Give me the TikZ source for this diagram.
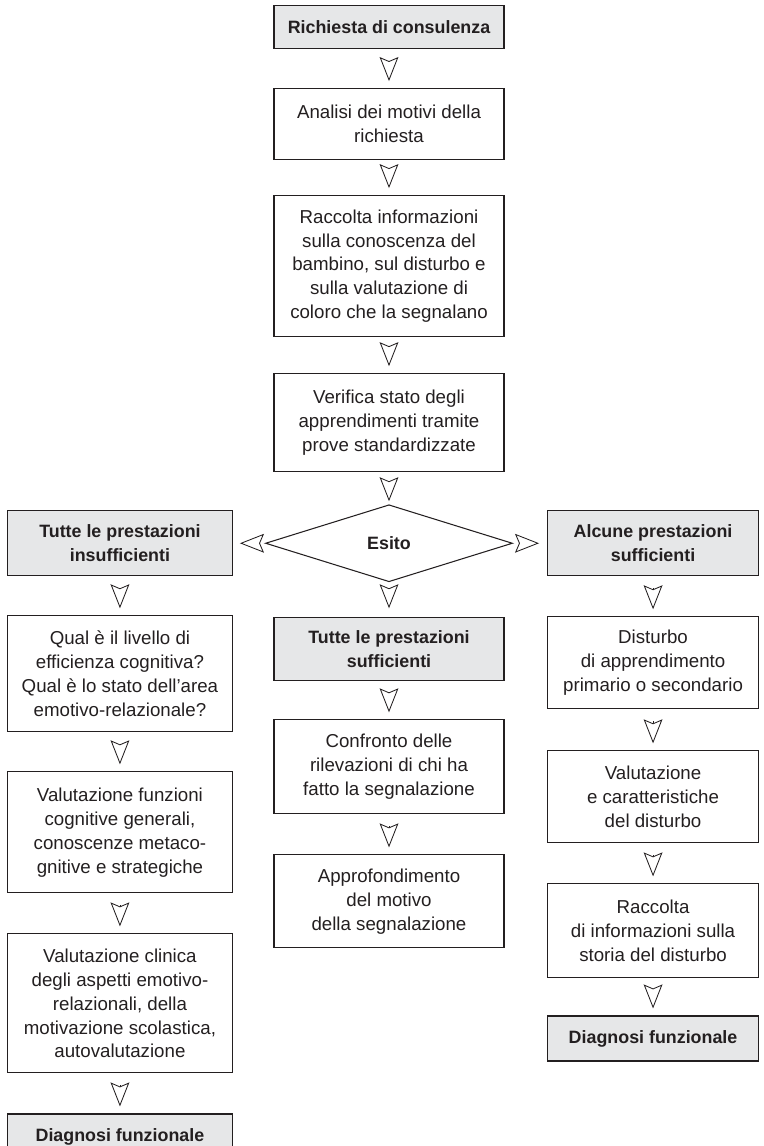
\documentclass[tikz,border=0pt]{standalone}
\usepackage{fontspec}
\setmainfont{Liberation Sans}
\usepackage{xcolor}
\usetikzlibrary{arrows.meta,shapes.geometric,positioning}

\definecolor{boxgray}{RGB}{230,231,232}
\definecolor{ink}{RGB}{35,31,32}

\begin{document}
\begin{tikzpicture}[
  node distance = 1cm and 0.8cm,
  > = {Stealth[length=0.6cm, width=0.47cm, inset=0.1cm, fill=white]},
  box/.style  = {rectangle, draw=ink, line width=0.75pt, align=center,
                 inner sep=2pt, text=ink, font=\fontsize{13.3}{17}\selectfont},
  mid/.style  = {box, minimum width=5.75cm},
  lft/.style  = {box, minimum width=5.625cm},
  rgt/.style  = {box, minimum width=5.275cm},
  hi/.style   = {fill=boxgray, font=\fontsize{12.7}{17}\selectfont\bfseries},
  choice/.style = {diamond, draw=ink, line width=0.75pt, aspect=3.2, inner sep=0pt,
                 minimum width=6.175cm, minimum height=1.925cm, text=ink,
                 font=\fontsize{12.7}{17}\selectfont\bfseries},
  flow/.style = {->, draw=ink, line width=0.6pt,
                 shorten <=0.3cm, shorten >=0.175cm}
]
\useasboundingbox (0,0) rectangle (19.1,-28.65);

% ───────── main column ─────────
\node[mid, hi, minimum height=1.075cm, anchor=north] (req) at (9.725,-0.125)
     {Richiesta di consulenza};
\node[mid, minimum height=1.775cm, below=0.975cm of req] (mot)
     {Analisi dei motivi della\\richiesta};
\node[mid, minimum height=3.525cm, below=0.875cm of mot] (info)
     {Raccolta informazioni\\sulla conoscenza del\\bambino, sul disturbo e\\sulla valutazione di\\coloro che la segnalano};
\node[mid, minimum height=2.45cm, below=0.9cm of info] (verif)
     {Verifica stato degli\\apprendimenti tramite\\prove standardizzate};
\node[choice, below=0.8cm of verif] (esito) {Esito};

% ───────── centre branch ─────────
\node[mid, hi, minimum height=1.575cm, below=0.875cm of esito] (tps)
     {Tutte le prestazioni\\sufficienti};
\node[mid, minimum height=2.35cm, below=0.95cm of tps] (conf)
     {Confronto delle\\rilevazioni di chi ha\\fatto la segnalazione};
\node[mid, minimum height=2.325cm, below=of conf] (appr)
     {Approfondimento\\del motivo\\della segnalazione};

% ───────── left branch ─────────
\node[lft, hi, minimum height=1.625cm, left=0.8cm of esito] (tpi)
     {Tutte le prestazioni\\insufficienti};
\node[lft, minimum height=2.9cm, below=0.975cm of tpi] (qual)
     {Qual è il livello di\\efficienza cognitiva?\\Qual è lo stato dell’area\\emotivo-relazionale?};
\node[lft, minimum height=3.025cm, below=0.975cm of qual] (vfun)
     {Valutazione funzioni\\cognitive generali,\\conoscenze metaco-\\gnitive e strategiche};
\node[lft, minimum height=3.475cm, below=of vfun] (vcli)
     {Valutazione clinica\\degli aspetti emotivo-\\relazionali, della\\motivazione scolastica,\\autovalutazione};
\node[lft, hi, minimum height=1.125cm, below=of vcli] (dfl)
     {Diagnosi funzionale};

% ───────── right branch ─────────
\node[rgt, hi, minimum height=1.625cm, right=0.85cm of esito] (aps)
     {Alcune prestazioni\\sufficienti};
\node[rgt, minimum height=2.3cm, below=of aps] (dist)
     {Disturbo\\di apprendimento\\primario o secondario};
\node[rgt, minimum height=2.3cm, below=1.025cm of dist] (vcar)
     {Valutazione\\e caratteristiche\\del disturbo};
\node[rgt, minimum height=2.35cm, below=of vcar] (rstor)
     {Raccolta\\di informazioni sulla\\storia del disturbo};
\node[rgt, hi, minimum height=1.125cm, below=0.925cm of rstor] (dfr)
     {Diagnosi funzionale};

% ───────── arrows ──────────
\draw[flow] (req) -- (mot);
\draw[flow] (mot) -- (info);
\draw[flow] (info) -- (verif);
\draw[flow, shorten >=0.075cm] (verif) -- (esito);

\draw[flow] (esito.west) -- (tpi.east);
\draw[flow, shorten >=0.2cm] (esito.east) -- (aps.west);
\draw[flow, shorten >=0.225cm] (esito.south) -- (tps.north);

\draw[flow] (tps) -- (conf);
\draw[flow] (conf) -- (appr);

\draw[flow] (tpi) -- (qual);
\draw[flow] (qual) -- (vfun);
\draw[flow] (vfun) -- (vcli);
\draw[flow] (vcli) -- (dfl);

\draw[flow] (aps) -- (dist);
\draw[flow] (dist) -- (vcar);
\draw[flow] (vcar) -- (rstor);
\draw[flow] (rstor) -- (dfr);

\end{tikzpicture}
\end{document}
